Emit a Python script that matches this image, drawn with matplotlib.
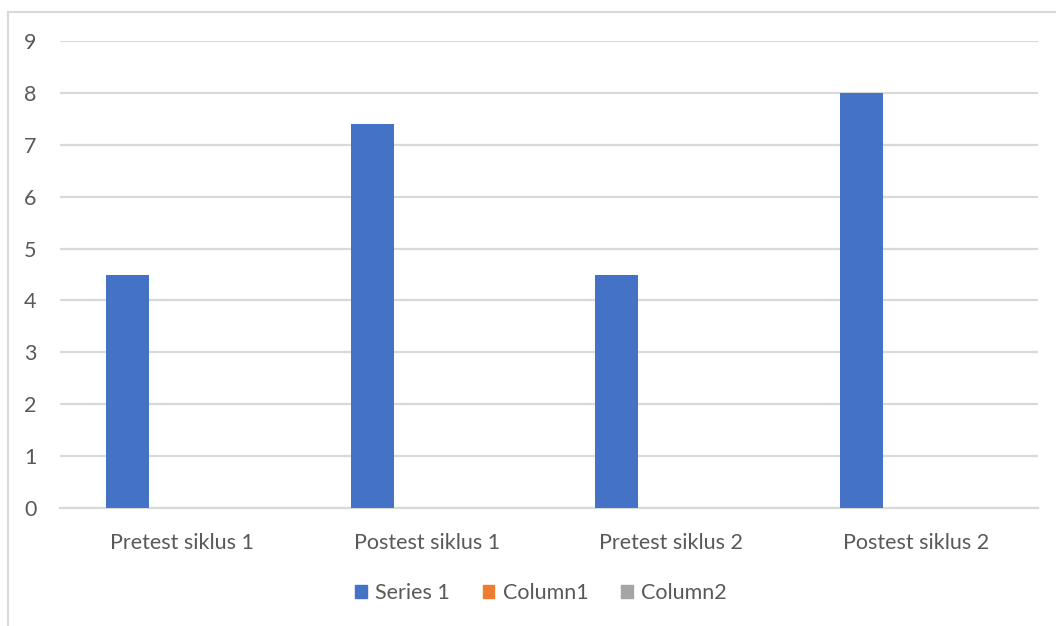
import matplotlib.pyplot as plt
from matplotlib.patches import Rectangle
from matplotlib.lines import Line2D
import numpy as np

# 数据
categories = ['Pretest siklus 1', 'Postest siklus 1', 'Pretest siklus 2', 'Postest siklus 2']
series_names = ['Series 1', 'Column1', 'Column2']
series1 = [4.5, 7.4, 4.5, 8.0]
column1 = [0, 0, 0, 0]
column2 = [0, 0, 0, 0]
y_ticks = [0, 1, 2, 3, 4, 5, 6, 7, 8, 9]

colors = ['#4472C4', '#ED7D31', '#A5A5A5']
text_color = '#595959'
grid_color = '#D9D9D9'

plt.rcParams['font.family'] = ['Lato', 'DejaVu Sans']

fig = plt.figure(figsize=(10.56, 6.26), dpi=100)
W, H = 1056, 626
ax = fig.add_axes([60 / W, 1 - 508 / H, (1038 - 60) / W, (508 - 41) / H])

x = np.arange(len(categories))
bw = 0.175
offsets = [-0.223, -0.223 + bw, -0.223 + 2 * bw]
for vals, off, c, name in zip([series1, column1, column2], offsets, colors, series_names):
    ax.bar(x + off, vals, width=bw, color=c, label=name, zorder=3)

ax.set_xlim(-0.5, 3.5)
ax.set_ylim(0, 9)
ax.set_yticks(y_ticks)
ax.set_xticks(x)
ax.set_xticklabels(categories)
ax.yaxis.grid(True, color=grid_color, linewidth=1.6, zorder=0)
ax.set_axisbelow(True)
for s in ax.spines.values():
    s.set_visible(False)
ax.spines['bottom'].set_visible(True)
ax.spines['bottom'].set_color(grid_color)
ax.spines['bottom'].set_linewidth(1.6)
ax.tick_params(axis='both', length=0, colors=text_color, labelsize=15.5)
ax.tick_params(axis='y', pad=17)
ax.tick_params(axis='x', pad=18)

# 图例
handles = [Rectangle((0, 0), 1, 1, color=c) for c in colors]
fig.legend(handles, series_names, loc='center', bbox_to_anchor=(541 / W, 1 - 593 / H),
           ncol=3, frameon=False, fontsize=15.5, labelcolor=text_color,
           handlelength=0.55, handleheight=0.55, handletextpad=0.4, columnspacing=1.5)

# 外框
fig.add_artist(Line2D([8 / W, 8 / W], [0, 1 - 12 / H], transform=fig.transFigure,
                      color=grid_color, linewidth=1.5))
fig.add_artist(Line2D([8 / W, 1], [1 - 12 / H, 1 - 12 / H], transform=fig.transFigure,
                      color=grid_color, linewidth=1.5))

plt.savefig('out.png', dpi=100)
